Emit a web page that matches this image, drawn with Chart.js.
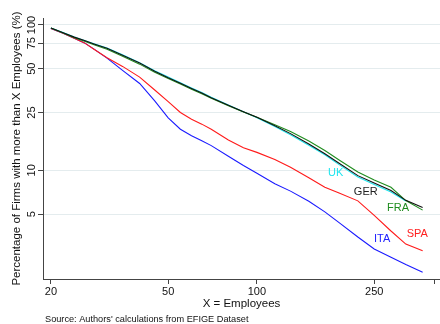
<!DOCTYPE html>
<html>
<head>
<meta charset="utf-8">
<script src="https://cdn.jsdelivr.net/npm/chart.js@4.4.1/dist/chart.umd.min.js"></script>
<style>
  html, body { margin: 0; padding: 0; background: #fff; }
  #wrap { width: 440px; height: 324px; }
</style>
</head>
<body>
<div id="wrap"><canvas id="firmsChart" width="440" height="324"></canvas></div>
<script>
// X = Employees thresholds //
const employees = [20, 22, 24, 26, 28, 31, 35, 40, 45, 50, 55, 60, 65, 70, 80, 90, 100, 115, 130, 150, 170, 190, 220, 250, 285, 320, 365];

// share of firms with more than X employees (%) //
const ger = [95.4, 88.4, 82.5, 78.1, 74.1, 69.1, 61.9, 54.7, 48.1, 43.4, 39.8, 36.6, 34.0, 31.6, 28.0, 25.3, 23.2, 20.3, 17.9, 15.2, 13.0, 11.2, 9.2, 8.2, 7.27, 6.22, 5.56];
const fra = [95.4, 88.0, 81.8, 77.2, 73.1, 68.0, 60.9, 53.8, 47.3, 42.8, 39.3, 36.1, 33.6, 31.3, 27.8, 25.2, 23.2, 20.6, 18.5, 15.9, 13.7, 11.8, 9.75, 8.6, 7.65, 6.2, 5.33];
const uk  = [95.4, 88.6, 82.8, 78.3, 74.4, 69.4, 62.3, 55.1, 48.5, 43.8, 40.1, 36.9, 34.3, 31.8, 28.2, 25.3, 23.0, 20.0, 17.6, 14.9, 12.8, 10.95, 9.0, 8.0, 7.1, 6.15, null];
const spa = [94.6, 87.7, 81.2, 75.3, 68.1, 59.6, 51.9, 43.8, 35.7, 29.7, 25.0, 22.5, 20.8, 19.2, 16.2, 14.3, 13.3, 11.9, 10.5, 8.91, 7.66, 6.99, 6.17, 4.91, 3.83, 3.11, 2.80];
const ita = [94.6, 87.7, 81.2, 75.3, 68.2, 59.2, 48.7, 39.6, 30.1, 23.0, 19.2, 17.3, 16.0, 14.8, 12.5, 10.8, 9.55, 8.09, 7.20, 6.14, 5.18, 4.37, 3.48, 2.88, 2.53, 2.25, 1.99];

// axis ticks //
const xTicks = [20, 50, 100, 250, 400];
const xTickLabels = ['20', '50', '100', '250', ''];
const yTicks = [5, 10, 25, 50, 75, 100];
const yTickLabels = ['5', '10', '25', '50', '75', '100'];

// country names written next to the curves, in data units //
const countryNames = ['UK', 'GER', 'FRA', 'SPA', 'ITA'];
const nameAt = {
    x: [185, 234, 301, 350, 266],
    y: [9.6, 7.1, 5.5, 3.65, 3.37],
    color: ['#1fe6ee', '#222222', '#1e8c1e', '#ff2020', '#2323ff']
};

const FONT = '"Liberation Sans", Arial, Helvetica, sans-serif';

function series(values) {
    return employees.map((e, i) => ({ x: e, y: values[i] }));
}

function line(label, values, color) {
    return {
        label: label,
        data: series(values),
        borderColor: color,
        backgroundColor: color,
        borderWidth: 1.1,
        pointRadius: 0,
        tension: 0,
        fill: false
    };
}

// texts: rotated y ticks, x ticks, axis titles, source note, country names //
const textPlugin = {
    id: 'chartTexts',
    afterDraw(chart) {
        const ctx = chart.ctx;
        const xs = chart.scales.x;
        const ys = chart.scales.y;
        const area = chart.chartArea;
        ctx.save();
        ctx.fillStyle = '#111';
        ctx.textAlign = 'center';
        ctx.textBaseline = 'alphabetic';

        ctx.font = '11px ' + FONT;
        for (let i = 0; i < xTicks.length; i++) {
            ctx.fillText(xTickLabels[i], xs.getPixelForValue(xTicks[i]), area.bottom + 16);
        }
        for (let i = 0; i < yTicks.length; i++) {
            ctx.save();
            ctx.translate(area.left - 8, ys.getPixelForValue(yTicks[i]));
            ctx.rotate(-Math.PI / 2);
            ctx.fillText(yTickLabels[i], 0, 0);
            ctx.restore();
        }

        ctx.font = '11.5px ' + FONT;
        ctx.fillText('X = Employees', (area.left + area.right) / 2, area.bottom + 27.5);
        ctx.save();
        ctx.translate(19.5, (area.top + area.bottom) / 2);
        ctx.rotate(-Math.PI / 2);
        ctx.fillText('Percentage of Firms with more than X Employees (%)', 0, 0);
        ctx.restore();

        ctx.textAlign = 'left';
        ctx.font = '9.2px ' + FONT;
        ctx.fillText("Source: Authors' calculations from EFIGE Dataset", 45, 322);

        ctx.textAlign = 'center';
        ctx.textBaseline = 'middle';
        ctx.font = '11px ' + FONT;
        for (let i = 0; i < countryNames.length; i++) {
            ctx.fillStyle = nameAt.color[i];
            ctx.fillText(countryNames[i], xs.getPixelForValue(nameAt.x[i]), ys.getPixelForValue(nameAt.y[i]));
        }
        ctx.restore();
    }
};

const firmsChart = document.getElementById('firmsChart');

new Chart(firmsChart, {
    type: 'line',
    data: {
        datasets: [
            line('GER', ger, '#111111'),
            line('FRA', fra, '#1e8c1e'),
            line('UK', uk, '#1fe6ee'),
            line('SPA', spa, '#ff1a1a'),
            line('ITA', ita, '#1a1aff')
        ]
    },
    options: {
        responsive: false,
        animation: false,
        layout: {
            padding: { top: 18, right: 0, bottom: 0, left: 0 }
        },
        plugins: {
            legend: { display: false },
            tooltip: { enabled: false }
        },
        scales: {
            x: {
                type: 'logarithmic',
                min: 18.8,
                max: 418,
                afterBuildTicks: s => { s.ticks = xTicks.map(v => ({ value: v })); },
                afterFit: s => { s.height = 45; },
                ticks: { display: false },
                grid: {
                    display: true,
                    drawOnChartArea: false,
                    drawTicks: true,
                    tickLength: 5,
                    tickColor: '#444',
                    tickWidth: 1
                },
                border: { display: true, color: '#444', width: 1 }
            },
            y: {
                type: 'logarithmic',
                min: 1.79,
                max: 111.7,
                afterBuildTicks: s => { s.ticks = yTicks.map(v => ({ value: v })); },
                afterFit: s => { s.width = 43; },
                ticks: { display: false },
                grid: {
                    display: true,
                    drawOnChartArea: true,
                    color: '#e4ecee',
                    lineWidth: 1,
                    drawTicks: true,
                    tickLength: 5,
                    tickColor: '#444',
                    tickWidth: 1
                },
                border: { display: true, color: '#444', width: 1 }
            }
        }
    },
    plugins: [textPlugin]
});
</script>
</body>
</html>
